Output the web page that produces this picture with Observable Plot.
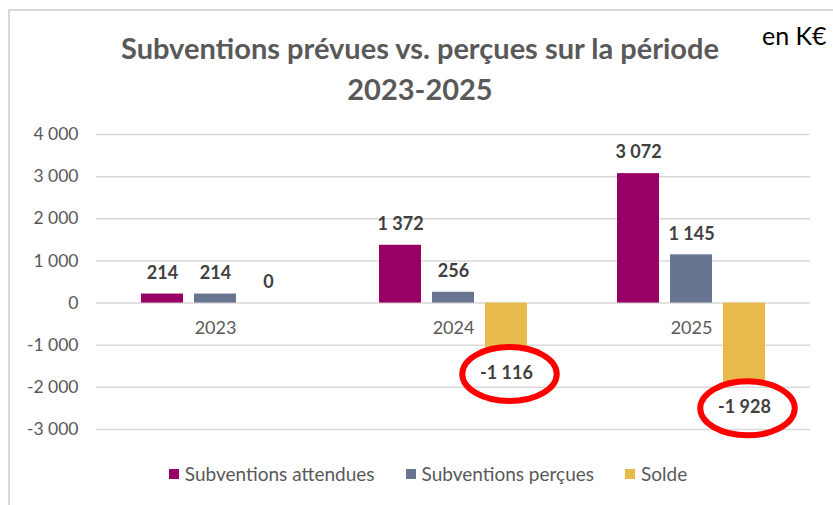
<!DOCTYPE html>
<html><head><meta charset="utf-8">
<script src="https://cdn.jsdelivr.net/npm/d3@7"></script>
<script src="https://cdn.jsdelivr.net/npm/@observablehq/plot@0.6"></script>
<style>
body{margin:0;background:#fff;}
#wrap{position:relative;width:833px;height:505px;overflow:hidden;font-family:Lato,"Open Sans",sans-serif;background:#fff;}
#frame{position:absolute;left:8px;top:9px;width:900px;height:600px;border-left:2px solid #d9d9d9;border-top:2px solid #d9d9d9;}
#title{position:absolute;left:0;width:840px;top:27px;text-align:center;font-weight:bold;color:#595959;font-size:29px;line-height:41px;}
#unit{position:absolute;left:762px;top:20px;font-size:25px;color:#000;}
#chart{position:absolute;left:0;top:110px;}
#legend{position:absolute;left:0;width:856px;top:462px;display:flex;justify-content:center;gap:31px;font-size:19px;color:#595959;}
#legend .it{display:flex;align-items:center;gap:6px;}
#legend .sw{width:10px;height:10px;display:inline-block;}
</style></head>
<body>
<div id="wrap">
  <div id="frame"></div>
  <div id="title">Subventions prévues vs. perçues sur la période<br>2023-2025</div>
  <div id="unit">en K€</div>
  <div id="chart"></div>
  <div id="legend"></div>
</div>
<script>
const years = ["2023", "2024", "2025"];
const seriesNames = ["Subventions attendues", "Subventions perçues", "Solde"];
const attendues = [214, 1372, 3072];
const percues = [214, 256, 1145];
const solde = [0, -1116, -1928];
const yTicks = [-3000, -2000, -1000, 0, 1000, 2000, 3000, 4000];
const colors = ["#990066", "#687591", "#E8B94B"];

const seriesValues = [attendues, percues, solde];
const data = [];
years.forEach((y, i) => seriesNames.forEach((s, j) => data.push({year: y, series: s, value: seriesValues[j][i]})));

const locale = d3.formatLocale({decimal: ",", thousands: "\u00a0", grouping: [3], currency: ["", " €"], minus: "-"});
const fmt = locale.format(",d");

const ellipse = {
  draw(ctx, size) {
    const ry = Math.sqrt(size / Math.PI), rx = ry * 1.75, k = 0.5523;
    ctx.moveTo(rx, 0);
    ctx.bezierCurveTo(rx, ry * k, rx * k, ry, 0, ry);
    ctx.bezierCurveTo(-rx * k, ry, -rx, ry * k, -rx, 0);
    ctx.bezierCurveTo(-rx, -ry * k, -rx * k, -ry, 0, -ry);
    ctx.bezierCurveTo(rx * k, -ry, rx, -ry * k, rx, 0);
    ctx.closePath();
  }
};

const chart = Plot.plot({
  width: 833,
  height: 345,
  marginLeft: 96,
  marginRight: 23,
  marginTop: 24,
  marginBottom: 26,
  style: {fontFamily: "Lato, 'Open Sans', sans-serif", background: "transparent"},
  fx: {domain: years, padding: 0, axis: null, label: null},
  x: {domain: seriesNames, paddingInner: 0.2075, paddingOuter: 0.849, axis: null, label: null},
  y: {domain: [-3000, 4000], label: null},
  color: {domain: seriesNames, range: colors},
  marks: [
    Plot.gridY(yTicks, {stroke: "#d9d9d9", strokeOpacity: 1, strokeWidth: 1.5}),
    Plot.axisY(yTicks, {tickSize: 0, tickPadding: 18, tickFormat: fmt, fontSize: 17.5, fill: "#595959", label: null}),
    Plot.barY(data, {fx: "year", x: "series", y: "value", fill: "series"}),
    Plot.text(years, {fx: d => d, y: () => 0, text: d => d, dy: 25, fontSize: 18, fill: "#595959"}),
    Plot.text(data.filter(d => d.value >= 0), {fx: "year", x: "series", y: "value", text: d => fmt(d.value), dy: -21, fontSize: 18, fontWeight: "bold", fill: "#404040"}),
    Plot.text(data.filter(d => d.value < 0), {fx: "year", x: "series", y: "value", text: d => fmt(d.value), dy: 23, fontSize: 18, fontWeight: "bold", fill: "#404040"}),
    Plot.dot(data.filter(d => d.series === "Solde" && d.value < 0), {fx: "year", x: "series", y: "value", dx: 3, dy: 24, r: 27, symbol: ellipse, fill: "none", stroke: "#FF0000", strokeWidth: 6})
  ]
});
document.getElementById("chart").appendChild(chart);

const legend = document.getElementById("legend");
seriesNames.forEach((s, i) => {
  const it = document.createElement("div");
  it.className = "it";
  it.innerHTML = `<span class="sw" style="background:${colors[i]}"></span><span>${s}</span>`;
  legend.appendChild(it);
});
</script>
</body></html>
